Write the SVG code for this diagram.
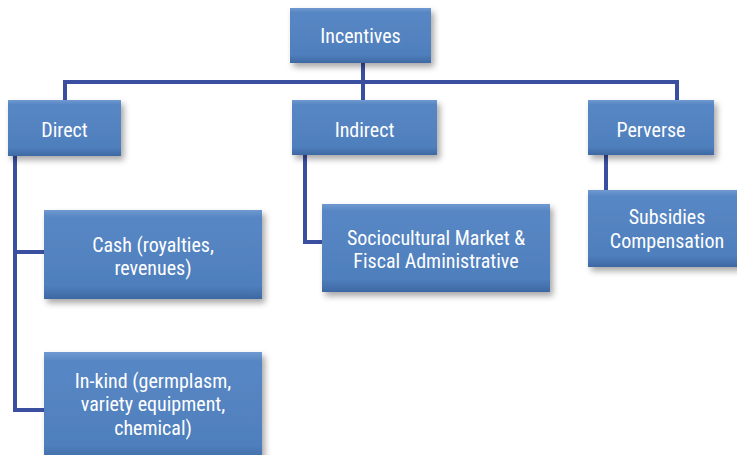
<svg xmlns="http://www.w3.org/2000/svg" width="737" height="455" viewBox="0 0 737 455">
  <defs>
    <linearGradient id="boxFill" x1="0" y1="0" x2="0" y2="1">
      <stop offset="0" stop-color="#7099d0"/>
      <stop offset="0.08" stop-color="#5787c4"/>
      <stop offset="0.85" stop-color="#4f7fbd"/>
      <stop offset="1" stop-color="#3e68a3"/>
    </linearGradient>
    <filter id="shadow" x="-10%" y="-10%" width="125%" height="135%">
      <feDropShadow dx="3" dy="4" stdDeviation="3" flood-color="#000" flood-opacity="0.35"/>
    </filter>
  </defs>
  <style>
    .box { fill: url(#boxFill); filter: url(#shadow); }
    .label { fill: #ffffff; font-family: "Liberation Sans Narrow", "Roboto Condensed", "Liberation Sans", sans-serif; font-stretch: condensed; font-size: 20px; text-anchor: middle; }
    .conn { fill: none; stroke: #3a4f9f; stroke-width: 4; stroke-linejoin: miter; }
  </style>
  <rect width="737" height="455" fill="#ffffff"/>

  <g id="connectors">
    <path class="conn" d="M363 63 V100"/>
    <path class="conn" d="M65 100 V82 H677 V100"/>
    <path class="conn" d="M15 156 V410 H44"/>
    <path class="conn" d="M15 252 H44"/>
    <path class="conn" d="M305 155 V242 H322"/>
    <path class="conn" d="M606 155 V190"/>
  </g>

  <g id="incentives">
    <rect class="box" x="290" y="8" width="141" height="55"/>
    <text class="label" x="360.5" y="43">Incentives</text>
  </g>
  <g id="direct">
    <rect class="box" x="8" y="100" width="113" height="56"/>
    <text class="label" x="64.5" y="137">Direct</text>
  </g>
  <g id="indirect">
    <rect class="box" x="292" y="100" width="145" height="55"/>
    <text class="label" x="364.5" y="137">Indirect</text>
  </g>
  <g id="perverse">
    <rect class="box" x="588" y="100" width="126" height="55"/>
    <text class="label" x="651" y="137">Perverse</text>
  </g>
  <g id="cash">
    <rect class="box" x="44" y="210" width="218" height="89"/>
    <text class="label" x="153" y="252">Cash (royalties,</text>
    <text class="label" x="153" y="275">revenues)</text>
  </g>
  <g id="inkind">
    <rect class="box" x="44" y="352" width="218" height="110"/>
    <text class="label" x="153" y="388">In-kind (germplasm,</text>
    <text class="label" x="153" y="411">variety equipment,</text>
    <text class="label" x="153" y="435">chemical)</text>
  </g>
  <g id="sociocultural">
    <rect class="box" x="322" y="204" width="228" height="88"/>
    <text class="label" x="436" y="245">Sociocultural Market &amp;</text>
    <text class="label" x="436" y="268">Fiscal Administrative</text>
  </g>
  <g id="subsidies">
    <rect class="box" x="588" y="190" width="158" height="77"/>
    <text class="label" x="667" y="224">Subsidies</text>
    <text class="label" x="667" y="248">Compensation</text>
  </g>
</svg>
